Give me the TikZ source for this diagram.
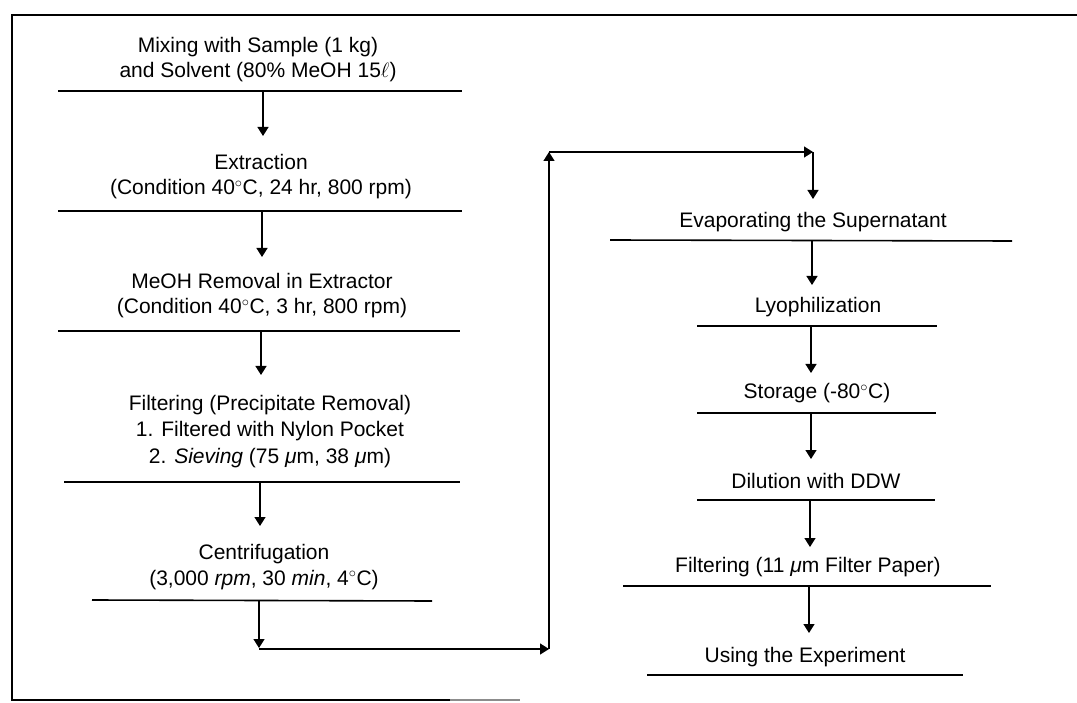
\documentclass[tikz,border=0pt]{standalone}
\usepackage{fontspec}
\setmainfont{Liberation Sans}
\usetikzlibrary{arrows.meta}
\begin{document}
\begin{tikzpicture}[x=1pt,y=-1pt,
  stepnode/.style={font=\fontsize{21}{25.5}\selectfont, align=center, anchor=base, inner sep=0pt},
  rule/.style={line width=1.6pt},
  frame/.style={line width=1.8pt},
  arr/.style={line width=1.3pt, -{Triangle[length=9pt,width=11pt]}}]
\useasboundingbox (0,0) rectangle (1077,703);
% frame
\coordinate (fTR) at (1077,15);
\coordinate (fTL) at (12,15);
\coordinate (fBL) at (12,700);
\coordinate (fBM) at (450,700);
\coordinate (fBR) at (520,700);
\draw[frame] (fTR) -- (fTL) -- (fBL) -- (fBM);
\draw[frame, black!45] (fBM) -- (fBR);

% left column (anchor = baseline of last line)
\node[stepnode] (s1) at (258,78) {Mixing with Sample (1 kg)\\and Solvent (80\% MeOH 15$\ell$)};
\draw[rule] (58,91) coordinate (r1l) -- (462,91) coordinate (r1r);
\node[stepnode] (s2) at (261,195) {Extraction\\(Condition 40$^{\circ}$C, 24 hr, 800 rpm)};
\draw[rule] (58,211) coordinate (r2l) -- (462,211) coordinate (r2r);
\node[stepnode] (s3) at (262,314) {MeOH Removal in Extractor\\(Condition 40$^{\circ}$C, 3 hr, 800 rpm)};
\draw[rule] (58,331) coordinate (r3l) -- (460,331) coordinate (r3r);
\node[stepnode, font=\fontsize{21}{26.5}\selectfont] (s4) at (270,463) {Filtering (Precipitate Removal)\\1. Filtered with Nylon Pocket\\2. \textit{Sieving} (75 \textit{μ}m, 38 \textit{μ}m)};
\draw[rule] (64,482) coordinate (r4l) -- (460,482) coordinate (r4r);
\node[stepnode] (s5) at (264,585) {Centrifugation\\(3,000 \textit{rpm}, 30 \textit{min}, 4$^{\circ}$C)};
\draw[rule] (92,600) coordinate (r5l) -- (432,601) coordinate (r5r);

\coordinate (a1s) at (263,91);  \coordinate (a1e) at (263,136);
\coordinate (a2s) at (262,211); \coordinate (a2e) at (262,257);
\coordinate (a3s) at (261,331); \coordinate (a3e) at (261,375);
\coordinate (a4s) at (260,482); \coordinate (a4e) at (260,526);
\coordinate (a5s) at (259,600); \coordinate (a5e) at (259,648);
\draw[arr] (a1s) -- (a1e);
\draw[arr] (a2s) -- (a2e);
\draw[arr] (a3s) -- (a3e);
\draw[arr] (a4s) -- (a4e);
\draw[arr] (a5s) -- (a5e);

% transfer connector
\coordinate (c1) at (259,649);
\coordinate (c2) at (549,649);
\coordinate (c3) at (549,152);
\coordinate (c4) at (813,152);
\coordinate (c5) at (813,199);
\draw[arr] (c1) -- (c2);
\draw[arr] (c2) -- (c3);
\draw[arr] (c3) -- (c4);
\draw[arr] (c4) -- (c5);

% right column
\node[stepnode] (t1) at (813,228) {Evaporating the Supernatant};
\draw[rule] (610,240) coordinate (q1l) -- (1012,241) coordinate (q1r);
\node[stepnode] (t2) at (818,313) {Lyophilization};
\draw[rule] (697,326) coordinate (q2l) -- (937,326) coordinate (q2r);
\node[stepnode] (t3) at (817,399) {Storage (-80$^{\circ}$C)};
\draw[rule] (697,413) coordinate (q3l) -- (936,413) coordinate (q3r);
\node[stepnode] (t4) at (816,488) {Dilution with DDW};
\draw[rule] (697,500) coordinate (q4l) -- (935,500) coordinate (q4r);
\node[stepnode] (t5) at (808,572) {Filtering (11 \textit{μ}m Filter Paper)};
\draw[rule] (623,586) coordinate (q5l) -- (991,586) coordinate (q5r);
\node[stepnode] (t6) at (805,662) {Using the Experiment};
\draw[rule] (647,675) coordinate (q6l) -- (963,675) coordinate (q6r);

\coordinate (b1s) at (812,241); \coordinate (b1e) at (812,285);
\coordinate (b2s) at (811,326); \coordinate (b2e) at (811,373);
\coordinate (b3s) at (811,413); \coordinate (b3e) at (811,459);
\coordinate (b4s) at (810,500); \coordinate (b4e) at (810,547);
\coordinate (b5s) at (809,586); \coordinate (b5e) at (809,633);
\draw[arr] (b1s) -- (b1e);
\draw[arr] (b2s) -- (b2e);
\draw[arr] (b3s) -- (b3e);
\draw[arr] (b4s) -- (b4e);
\draw[arr] (b5s) -- (b5e);
\end{tikzpicture}
\end{document}
